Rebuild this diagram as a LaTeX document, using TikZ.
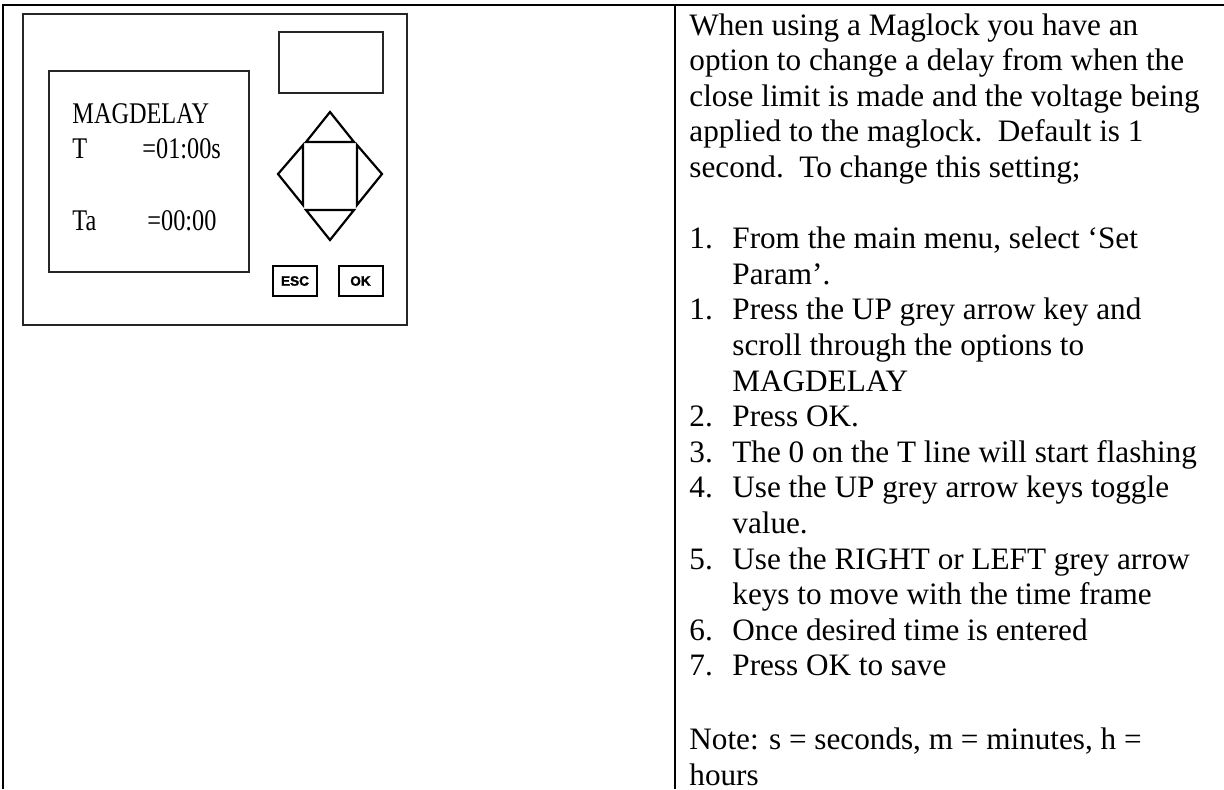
\documentclass[tikz,border=0pt]{standalone}
\usepackage{fontspec}
\setmainfont{Liberation Serif}
\newfontfamily\keyfont[BoldFeatures={FakeBold=1.5}]{Liberation Sans}
\newfontfamily\lcdfont[FakeStretch=0.81]{Liberation Serif}
\usetikzlibrary{positioning}

\tikzset{
  tableline/.style={line width=1pt},
  panel/.style={line width=1.4pt, draw=black!85},
  keyshape/.style={line width=1.1pt, line join=miter},
  keybox/.style={draw, line width=1pt, minimum width=22pt, minimum height=15pt, inner sep=0pt,
    font=\keyfont\bfseries\fontsize{6.8}{8}\selectfont},
  lcdtext/.style={anchor=base west, inner sep=0pt, font=\lcdfont\fontsize{15}{18}\selectfont},
  notetext/.style={anchor=north west, inner sep=0pt, align=left, font=\fontsize{15.6}{17.8}\selectfont}
}
\newcommand{\itemno}[1]{\makebox[21.5pt][l]{#1}}
\newcommand{\itemind}{\hspace*{21.5pt}}

\begin{document}
\begin{tikzpicture}[x=0.5pt,y=-0.5pt]
\useasboundingbox (0,0) rectangle (1224,789);
% table rules
\draw[tableline] (3,789) -- (3,5) -- (1224,5);
\draw[tableline] (675,5) -- (675,789);
% controller panel
\draw[panel] (23,14) rectangle (407,325);
\draw[panel] (49,71) rectangle (249,272);
\draw[panel] (279,32) rectangle (383,93);
\node[lcdtext] (mag) at (72,123) {MAGDELAY};
\node[lcdtext] (tlbl) at (72,158) {T};
\node[lcdtext] (tval) at (142,158) {=01:00s};
\node[lcdtext] (talbl) at (72,230) {Ta};
\node[lcdtext] (taval) at (147,230) {=00:00};
% arrow keys
\draw[keyshape] (330,112) -- (354,142) -- (306,142) -- cycle;
\draw[keyshape] (278,174) -- (303,145) -- (303,205) -- cycle;
\draw[keyshape] (382,174) -- (357,145) -- (357,205) -- cycle;
\draw[keyshape] (330,240) -- (354,210) -- (306,210) -- cycle;
\node[keybox] (esc) at (295,281) {ESC};
\node[keybox] (ok) at (360.5,281) {OK};
% instructions
\node[notetext] (instr) at (689,13) {When using a Maglock you have an\\
option to change a delay from when the\\
close limit is made and the voltage being\\
applied to the maglock.\ \ Default is 1\\
second.\ \ To change this setting;\\[17.8pt]
\itemno{1.}From the main menu, select ‘Set\\
\itemind Param’.\\
\itemno{1.}Press the UP grey arrow key and\\
\itemind scroll through the options to\\
\itemind MAGDELAY\\
\itemno{2.}Press OK.\\
\itemno{3.}The 0 on the T line will start flashing\\
\itemno{4.}Use the UP grey arrow keys toggle\\
\itemind value.\\
\itemno{5.}Use the RIGHT or LEFT grey arrow\\
\itemind keys to move with the time frame\\
\itemno{6.}Once desired time is entered\\
\itemno{7.}Press OK to save\\[19pt]
Note: s = seconds, m = minutes, h =\\
hours};
\end{tikzpicture}
\end{document}
